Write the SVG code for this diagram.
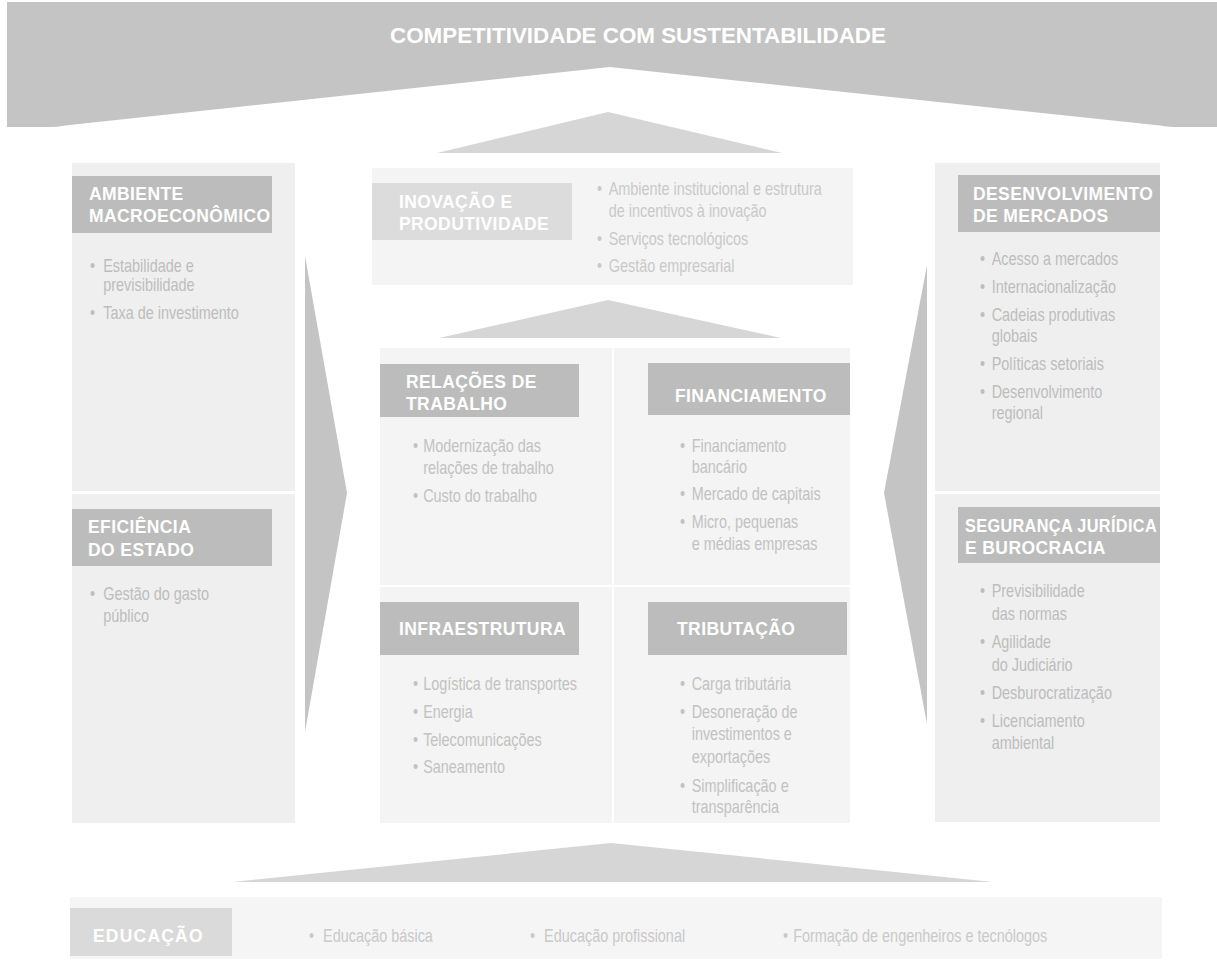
<svg xmlns="http://www.w3.org/2000/svg" width="1217" height="963" viewBox="0 0 1217 963">
<style>
.hd{font-family:"Liberation Sans",Arial,sans-serif;font-weight:bold;font-size:17.5px;fill:#ffffff;letter-spacing:0.4px}
.t{font-family:"Liberation Sans",Arial,sans-serif;font-size:18.5px;fill:#bdbdbd}
.tc{fill:#c2c2c2}
.tl{fill:#c9c9c9}
.panel{fill:#efefef}
.cell{fill:#f4f4f4}
.hbox{fill:#bcbcbc}
.hlight{fill:#dcdcdc}
.arrow{fill:#c4c4c4}
.tri{fill:#d6d6d6}
</style>
<rect width="1217" height="963" fill="#ffffff"/>

<g id="competitividade">
<path d="M7 2 H1217 V127 H1177 Q1170 127 1160 125.5 L610 67 L65 125.5 Q57 127 50 127 H7 Z" fill="#c4c4c4"/>
<text x="390" y="43" style="font-family:'Liberation Sans',Arial,sans-serif;font-weight:bold;font-size:22.4px;fill:#ffffff">COMPETITIVIDADE COM SUSTENTABILIDADE</text>
</g>

<g id="connectors">
<polygon class="tri" points="608,112 782,153 437,153"/>
<polygon class="tri" points="608,300 781,338 439,338"/>
<polygon class="tri" points="611,843 993,882 232,882"/>
<polygon class="arrow" points="305,256 347,493 305,732"/>
<polygon class="arrow" points="927,265 884,493 927,724"/>
</g>

<g id="col-left">
<rect class="panel" x="72" y="163" width="223" height="660"/>
<rect x="72" y="491" width="223" height="3" fill="#ffffff"/>
</g>
<g id="ambiente-macroeconomico">
<rect class="hbox" x="72" y="176" width="200" height="57"/>
<text class="hd" x="89" y="200">AMBIENTE</text>
<text class="hd" x="89" y="222">MACROECONÔMICO</text>
<text class="t" transform="translate(90 272) scale(.78 1)"><tspan x="0" y="0">•</tspan><tspan x="17" y="0">Estabilidade e</tspan><tspan x="17" y="19">previsibilidade</tspan><tspan x="0" y="47">•</tspan><tspan x="17" y="47">Taxa de investimento</tspan></text>
</g>
<g id="eficiencia-estado">
<rect class="hbox" x="72" y="509" width="200" height="57"/>
<text class="hd" x="88" y="533">EFICIÊNCIA</text>
<text class="hd" x="88" y="556">DO ESTADO</text>
<text class="t" transform="translate(90 600) scale(.78 1)"><tspan x="0" y="0">•</tspan><tspan x="17" y="0">Gestão do gasto</tspan><tspan x="17" y="22">público</tspan></text>
</g>

<g id="col-right">
<rect class="panel" x="935" y="163" width="225" height="659"/>
<rect x="935" y="491" width="225" height="3" fill="#ffffff"/>
</g>
<g id="desenvolvimento-mercados">
<rect class="hbox" x="958" y="175" width="202" height="57"/>
<text class="hd" x="973" y="200">DESENVOLVIMENTO</text>
<text class="hd" x="973" y="222">DE MERCADOS</text>
<text class="t" transform="translate(980 265) scale(.78 1)"><tspan x="0" y="0">•</tspan><tspan x="15" y="0">Acesso a mercados</tspan><tspan x="0" y="28">•</tspan><tspan x="15" y="28">Internacionalização</tspan><tspan x="0" y="56">•</tspan><tspan x="15" y="56">Cadeias produtivas</tspan><tspan x="15" y="77">globais</tspan><tspan x="0" y="105">•</tspan><tspan x="15" y="105">Políticas setoriais</tspan><tspan x="0" y="133">•</tspan><tspan x="15" y="133">Desenvolvimento</tspan><tspan x="15" y="154">regional</tspan></text>
</g>
<g id="seguranca-juridica">
<rect class="hbox" x="958" y="507" width="202" height="56"/>
<text class="hd" x="965" y="532" textLength="192" lengthAdjust="spacingAndGlyphs">SEGURANÇA JURÍDICA</text>
<text class="hd" x="965" y="554">E BUROCRACIA</text>
<text class="t" transform="translate(980 597) scale(.78 1)"><tspan x="0" y="0">•</tspan><tspan x="15" y="0">Previsibilidade</tspan><tspan x="15" y="23">das normas</tspan><tspan x="0" y="51">•</tspan><tspan x="15" y="51">Agilidade</tspan><tspan x="15" y="74">do Judiciário</tspan><tspan x="0" y="102">•</tspan><tspan x="15" y="102">Desburocratização</tspan><tspan x="0" y="130">•</tspan><tspan x="15" y="130">Licenciamento</tspan><tspan x="15" y="152">ambiental</tspan></text>
</g>

<g id="inovacao-produtividade">
<rect x="372" y="168" width="481" height="117" fill="#f4f4f4"/>
<rect class="hlight" x="372" y="183" width="200" height="57"/>
<text class="hd" x="399" y="208">INOVAÇÃO E</text>
<text class="hd" x="399" y="230">PRODUTIVIDADE</text>
<text class="t tl" transform="translate(597 195) scale(.78 1)"><tspan x="0" y="0">•</tspan><tspan x="15" y="0">Ambiente institucional e estrutura</tspan><tspan x="15" y="22">de incentivos à inovação</tspan><tspan x="0" y="50">•</tspan><tspan x="15" y="50">Serviços tecnológicos</tspan><tspan x="0" y="77">•</tspan><tspan x="15" y="77">Gestão empresarial</tspan></text>
</g>

<g id="relacoes-trabalho">
<rect class="cell" x="380" y="348" width="232" height="237"/>
<rect class="hbox" x="380" y="364" width="199" height="53"/>
<text class="hd" x="406" y="388">RELAÇÕES DE</text>
<text class="hd" x="406" y="410">TRABALHO</text>
<text class="t tc" transform="translate(413 452) scale(.78 1)"><tspan x="0" y="0">•</tspan><tspan x="13" y="0">Modernização das</tspan><tspan x="13" y="22">relações de trabalho</tspan><tspan x="0" y="50">•</tspan><tspan x="13" y="50">Custo do trabalho</tspan></text>
</g>
<g id="financiamento">
<rect class="cell" x="614" y="348" width="236" height="237"/>
<rect class="hbox" x="648" y="363" width="202" height="52"/>
<text class="hd" x="675" y="402">FINANCIAMENTO</text>
<text class="t tc" transform="translate(680 452) scale(.78 1)"><tspan x="0" y="0">•</tspan><tspan x="15" y="0">Financiamento</tspan><tspan x="15" y="21">bancário</tspan><tspan x="0" y="48">•</tspan><tspan x="15" y="48">Mercado de capitais</tspan><tspan x="0" y="76">•</tspan><tspan x="15" y="76">Micro, pequenas</tspan><tspan x="15" y="98">e médias empresas</tspan></text>
</g>
<g id="infraestrutura">
<rect class="cell" x="380" y="587" width="232" height="236"/>
<rect class="hbox" x="380" y="602" width="199" height="53"/>
<text class="hd" x="399" y="635">INFRAESTRUTURA</text>
<text class="t tc" transform="translate(413 690) scale(.78 1)"><tspan x="0" y="0">•</tspan><tspan x="13" y="0">Logística de transportes</tspan><tspan x="0" y="28">•</tspan><tspan x="13" y="28">Energia</tspan><tspan x="0" y="56">•</tspan><tspan x="13" y="56">Telecomunicações</tspan><tspan x="0" y="83">•</tspan><tspan x="13" y="83">Saneamento</tspan></text>
</g>
<g id="tributacao">
<rect class="cell" x="614" y="587" width="236" height="236"/>
<rect class="hbox" x="648" y="602" width="199" height="53"/>
<text class="hd" x="677" y="635">TRIBUTAÇÃO</text>
<text class="t tc" transform="translate(680 690) scale(.78 1)"><tspan x="0" y="0">•</tspan><tspan x="15" y="0">Carga tributária</tspan><tspan x="0" y="28">•</tspan><tspan x="15" y="28">Desoneração de</tspan><tspan x="15" y="50">investimentos e</tspan><tspan x="15" y="73">exportações</tspan><tspan x="0" y="102">•</tspan><tspan x="15" y="102">Simplificação e</tspan><tspan x="15" y="123">transparência</tspan></text>
</g>

<g id="educacao">
<rect x="70" y="897" width="1092" height="62" fill="#f5f5f5"/>
<rect x="70" y="908" width="162" height="48" fill="#dadada"/>
<text class="hd" x="93" y="942" style="letter-spacing:1.2px">EDUCAÇÃO</text>
<text class="t tl" transform="translate(309 942) scale(.78 1)"><tspan x="0" y="0">•</tspan><tspan x="18" y="0">Educação básica</tspan></text>
<text class="t tl" transform="translate(530 942) scale(.78 1)"><tspan x="0" y="0">•</tspan><tspan x="18" y="0">Educação profissional</tspan></text>
<text class="t tl" transform="translate(783 942) scale(.78 1)"><tspan x="0" y="0">•</tspan><tspan x="13" y="0">Formação de engenheiros e tecnólogos</tspan></text>
</g>
</svg>
